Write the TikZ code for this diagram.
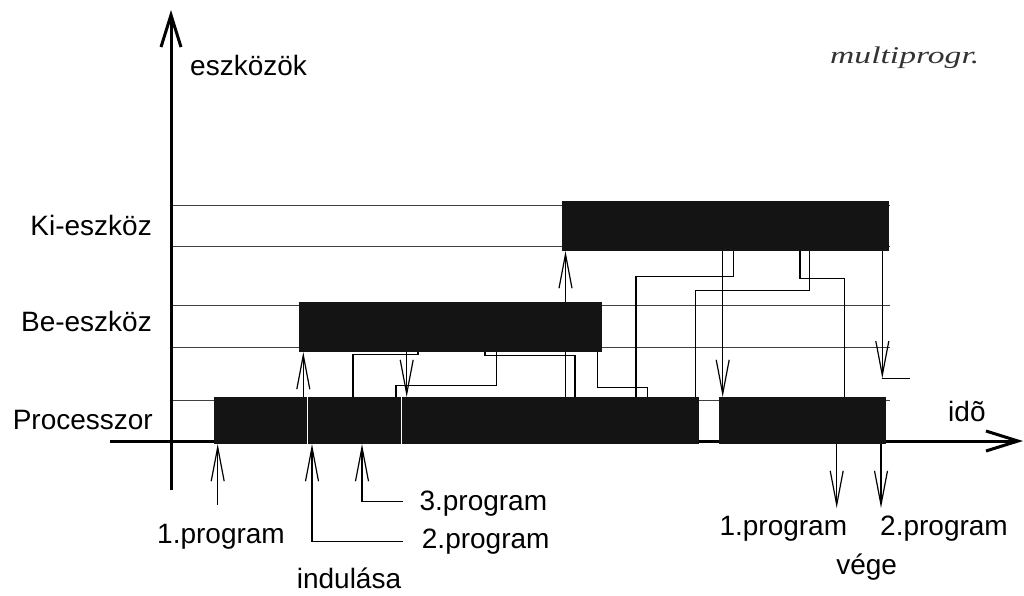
\documentclass[tikz,border=0pt]{standalone}
\usepackage{fontspec}
\setmainfont{Liberation Sans}
\newfontfamily\hand{Liberation Serif}
\usetikzlibrary{arrows.meta}
\definecolor{barc}{HTML}{141414}
\begin{document}
\begin{tikzpicture}[x=1pt,y=-1pt,
  bar/.style={fill=barc, draw=none, inner sep=0pt, outer sep=0pt, anchor=north west},
  gridline/.style={draw=black!75, line width=0.8pt},
  conn/.style={line width=1.2pt, black},
  arr/.style={conn, -{Straight Barb[length=34pt,width=13pt]}},
  axisline/.style={line width=3pt, -{Straight Barb[length=32pt,width=20pt]}},
  lbl/.style={font=\fontsize{28}{32}\selectfont, inner sep=0pt}]
\useasboundingbox (0,0) rectangle (1024,595);
% axes
\coordinate (yb) at (171,490);
\coordinate (yt) at (171,10);
\coordinate (xl) at (110,441);
\coordinate (xr) at (1023,441);
% grid lines
\foreach \gy in {205,246.7,305,347.7,400} {
  \draw[gridline] (171,\gy) -- (890,\gy);
}
\draw[axisline] (yb) -- (yt);
\draw[axisline] (xl) -- (xr);
% bars
\node[bar, minimum width=327pt, minimum height=50pt] (ki) at (562,201) {};
\node[bar, minimum width=303pt, minimum height=50pt] (be) at (299,302) {};
\node[bar, minimum width=485pt, minimum height=47pt] (p1) at (214,397) {};
\node[bar, minimum width=166.5pt, minimum height=47pt] (p2) at (719,397) {};
\draw[white, line width=1.5pt] (307.3,0 |- p1.north) -- (307.3,0 |- p1.south);
\draw[white, line width=1.5pt] (401.7,0 |- p1.north) -- (401.7,0 |- p1.south);
% connectors between bars
\draw[arr] (303.3,0 |- p1.north) -- (303.3,0 |- be.south);
\draw[conn] (418,0 |- be.south) -- (418,354.5) -- (353,354.5) -- (353,0 |- p1.north);
\draw[arr] (406.7,0 |- be.south) -- (406.7,0 |- p1.north);
\draw[conn] (496.7,0 |- be.south) -- (496.7,385.7) -- (396,385.7) -- (396,0 |- p1.north);
\draw[conn] (485,0 |- be.south) -- (485,355.7) -- (575,355.7) -- (575,0 |- p1.north);
\draw[arr] (565.5,0 |- be.north) -- (565.5,0 |- ki.south);
\draw[conn] (565.5,0 |- p1.north) -- (565.5,0 |- be.south);
\draw[conn] (597.3,0 |- be.south) -- (597.3,387.3) -- (647.3,387.3) -- (647.3,0 |- p1.north);
\draw[conn] (733.3,0 |- ki.south) -- (733.3,276.7) -- (636,276.7) -- (636,0 |- p1.north);
\draw[arr] (722.7,0 |- ki.south) -- (722.7,0 |- p2.north);
\draw[conn] (809.3,0 |- ki.south) -- (809.3,290.7) -- (695.7,290.7) -- (695.7,0 |- p1.north);
\draw[conn] (800,0 |- ki.south) -- (800,278.3) -- (844.3,278.3) -- (844.3,0 |- p2.north);
\coordinate (e12) at (882.3,378.3);
\coordinate (e12b) at (910,378.3);
\draw[arr] (882.3,0 |- ki.south) -- (e12);
\draw[conn] (e12) -- (e12b);
% start arrows
\coordinate (s1) at (217.7,505);
\coordinate (c2) at (403,541.7);
\coordinate (c3) at (403,501.7);
\draw[arr] (s1) -- (s1 |- p1.south);
\draw[arr] (c2) -- (312,541.7) -- (312,0 |- p1.south);
\draw[arr] (c3) -- (362,501.7) -- (362,0 |- p1.south);
% end arrows
\coordinate (f1) at (836.7,508);
\coordinate (f2) at (881,508);
\draw[arr] (f1 |- p2.south) -- (f1);
\draw[arr] (f2 |- p2.south) -- (f2);
% labels
\node[lbl, anchor=base west] (eszk) at (190,75) {eszközök};
\node[lbl, anchor=base east] (lki) at (152,235) {Ki-eszköz};
\node[lbl, anchor=base east] (lbe) at (152,331.7) {Be-eszköz};
\node[lbl, anchor=base east] (lpr) at (153,429) {Processzor};
\node[lbl, anchor=base west] (ido) at (948,421.7) {idõ};
\node[lbl, anchor=base west] (t1) at (157,543.3) {1.program};
\node[lbl, anchor=base west] (t2) at (421.7,548.3) {2.program};
\node[lbl, anchor=base west] (t3) at (419.3,510) {3.program};
\node[lbl, anchor=base] (ind) at (349,588.3) {indulása};
\node[lbl, anchor=base west] (v1) at (719.3,535) {1.program};
\node[lbl, anchor=base west] (v2) at (880,535) {2.program};
\node[lbl, anchor=base] (vege) at (866.7,574) {vége};
\node[anchor=base west, inner sep=0pt, text=black!80, font=\hand\itshape\fontsize{24}{28}\selectfont] (mp) at (830,63) {\scalebox{1.4}[1]{multiprogr.}};
\end{tikzpicture}
\end{document}
